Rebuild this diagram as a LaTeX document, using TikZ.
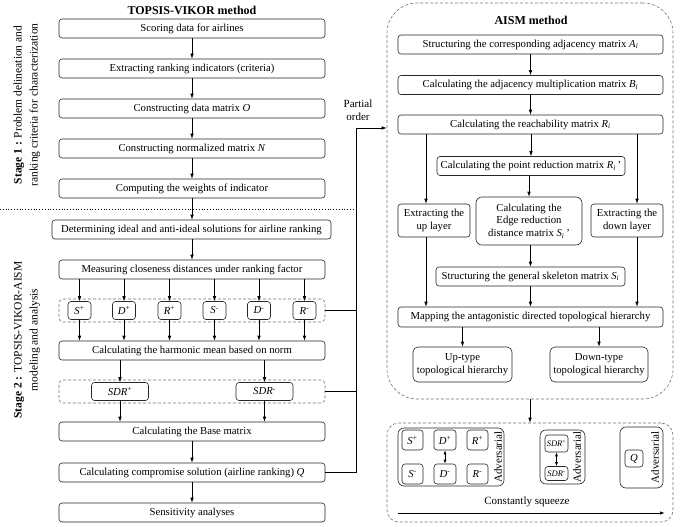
\documentclass[tikz,border=0pt]{standalone}
\usepackage{fontspec}
\setmainfont{Liberation Serif}
\usetikzlibrary{arrows.meta}
\newcommand\sv[2]{\textit{#1}\textsuperscript{#2}}
\newcommand\mx[2]{\textit{#1}\textsubscript{\textit{#2}}}
\begin{document}
\begin{tikzpicture}[x=1pt,y=-1pt,
 box/.style={draw=black!85, line width=0.6pt, rounded corners=3pt, inner sep=1pt, align=center, font=\fontsize{10.7}{12.5}\selectfont},
 sbox/.style={box, minimum width=23, minimum height=18},
 tbox/.style={box, font=\fontsize{8.5}{9}\selectfont, inner sep=0pt},
 grp/.style={draw=black!55, line width=0.6pt, dash pattern=on 3pt off 2pt},
 igrp/.style={draw=black!85, line width=0.6pt, rounded corners=6pt},
 arr/.style={-{Latex[length=5pt,width=3.5pt]}, line width=0.6pt},
 darr/.style={{Latex[length=4pt,width=3pt]}-{Latex[length=4pt,width=3pt]}, line width=0.6pt},
 ln/.style={line width=0.6pt},
 ttl/.style={font=\bfseries\fontsize{12}{14}\selectfont},
 lbl/.style={font=\fontsize{11.5}{16}\selectfont, align=center},
 adv/.style={rotate=90, font=\fontsize{11}{13}\selectfont, inner sep=0pt}
 ]
\useasboundingbox (0,0) rectangle (693,527);

% ---------- left column ----------
\node[ttl] (t1) at (192,10) {TOPSIS-VIKOR method};
\node[box,minimum width=266,minimum height=19] (a1) at (192,28.5) {Scoring data for airlines};
\node[box,minimum width=266,minimum height=19] (a2) at (192,68.5) {Extracting ranking indicators (criteria)};
\node[box,minimum width=266,minimum height=19] (a3) at (192,108.5) {Constructing data matrix \textit{O}};
\node[box,minimum width=266,minimum height=19] (a4) at (192,148.5) {Constructing normalized matrix \textit{N}};
\node[box,minimum width=266,minimum height=19] (a5) at (192,188.5) {Computing the weights of indicator};
\coordinate (dl) at (0,209);
\coordinate (dr) at (355,209);
\draw[dotted, line width=0.8pt] (dl) -- (dr);
\node[box,minimum width=279,minimum height=19] (a6) at (191.5,229.5) {Determining ideal and anti-ideal solutions for airline ranking};
\node[box,minimum width=266,minimum height=19] (a7) at (192,269.5) {Measuring closeness distances under ranking factor};
\node[grp, rounded corners=4pt, minimum width=266, minimum height=23] (sgrp) at (192,310.5) {};
\node[sbox] (p1) at (79.5,310.5) {\sv{S}{+}};
\node[sbox] (p2) at (124,310.5) {\sv{D}{+}};
\node[sbox] (p3) at (169.5,310.5) {\sv{R}{+}};
\node[sbox] (p4) at (214.5,310.5) {\sv{S}{-}};
\node[sbox] (p5) at (259,310.5) {\sv{D}{-}};
\node[sbox] (p6) at (304.5,310.5) {\sv{R}{-}};
\node[box,minimum width=266,minimum height=19] (a8) at (192,350.5) {Calculating the harmonic mean based on norm};
\node[grp, rounded corners=4pt, minimum width=266, minimum height=23] (dgrp) at (192,391.5) {};
\node[box,minimum width=57,minimum height=18] (q1) at (120,391.5) {\sv{SDR}{+}};
\node[box,minimum width=57,minimum height=18] (q2) at (264.5,391.5) {\sv{SDR}{-}};
\node[box,minimum width=266,minimum height=19] (a9) at (192,431.5) {Calculating the Base matrix};
\node[box,minimum width=266,minimum height=19] (a10) at (192,472.5) {Calculating compromise solution (airline ranking) \textit{Q}};
\node[box,minimum width=266,minimum height=19] (a11) at (192,512.5) {Sensitivity analyses};

\draw[arr] (a1) -- (a2);
\draw[arr] (a2) -- (a3);
\draw[arr] (a3) -- (a4);
\draw[arr] (a4) -- (a5);
\draw[arr] (a5.south) -- (a5.south |- a6.north);
\draw[arr] (a6.south -| a7) -- (a7.north);
\foreach \p in {p1,p2,p3,p4,p5,p6}{
  \draw[arr] (a7.south -| \p) -- (\p.north);
  \draw[arr] (\p.south) -- (a8.north -| \p);
}
\draw[arr] (a8.south -| q1) -- (q1.north);
\draw[arr] (a8.south -| q2) -- (q2.north);
\draw[arr] (q1.south) -- (a9.north -| q1);
\draw[arr] (q2.south) -- (a9.north -| q2);
\draw[arr] (a9) -- (a10);
\draw[arr] (a10) -- (a11);

% stage labels
\node[lbl, rotate=90] (st1) at (27,105) {\textbf{Stage 1 :} Problem delineation and\\ranking criteria for characterization};
\node[lbl, rotate=90] (st2) at (27,340) {\textbf{Stage 2 :} TOPSIS-VIKOR-AISM\\modeling and analysis};

% ---------- AISM ----------
\node[grp, rounded corners=30pt, minimum width=286, minimum height=396] (aism) at (530,201) {};
\node[ttl] (t2) at (531,20) {AISM method};
\node[box,minimum width=265,minimum height=19] (s1) at (530.5,44.5) {Structuring the corresponding adjacency matrix \mx{A}{i}};
\node[box,minimum width=265,minimum height=19] (s2) at (530.5,85) {Calculating the adjacency multiplication matrix \mx{B}{i}};
\node[box,minimum width=265,minimum height=19] (s3) at (530.5,124.5) {Calculating the reachability matrix \mx{R}{i}};
\node[box,minimum width=188,minimum height=19] (s4) at (531,166) {Calculating the point reduction matrix \mx{R}{i}\,’};
\node[box,minimum width=72,minimum height=33] (up) at (434,220.5) {Extracting the\\up layer};
\node[box,minimum width=106,minimum height=48, rounded corners=6pt] (edge) at (529,221) {Calculating the\\Edge reduction\\distance matrix \mx{S}{i}\,’};
\node[box,minimum width=72,minimum height=33] (down) at (627,220.5) {Extracting the\\down layer};
\node[box,minimum width=189,minimum height=19] (skel) at (530.5,276.5) {Structuring the general skeleton matrix \mx{S}{i}};
\node[box,minimum width=265,minimum height=20] (map) at (530.5,317) {Mapping the antagonistic directed topological hierarchy};
\node[box,minimum width=99,minimum height=35, rounded corners=5pt] (upt) at (462.5,364.5) {Up-type\\topological hierarchy};
\node[box,minimum width=98,minimum height=35, rounded corners=5pt] (dnt) at (599,364.5) {Down-type\\topological hierarchy};

\draw[arr] (s1) -- (s2);
\draw[arr] (s2) -- (s3);
\draw[arr] (s3.south -| s4) -- (s4.north);
\draw[arr] (s4.south -| edge.north) -- (edge.north);
\draw[arr] (edge.south -| skel.north) -- (skel.north);
\draw[arr] (skel.south) -- (map.north -| skel.south);
\coordinate (ux) at (426,0);
\coordinate (dx) at (637,0);
\draw[arr] (s3.south -| ux) -- (up.north -| ux);
\draw[arr] (up.south -| ux) -- (map.north -| ux);
\draw[arr] (s3.south -| dx) -- (down.north -| dx);
\draw[arr] (down.south -| dx) -- (map.north -| dx);
\draw[arr] (map.south -| upt) -- (upt.north);
\draw[arr] (map.south -| dnt) -- (dnt.north);

% partial order connector
\node[font=\fontsize{11}{13}\selectfont, align=center] (po) at (358,110) {Partial\\order};
\coordinate (vtop) at (356,128);
\draw[ln] (a10.east) -- (a10.east -| vtop) -- (vtop);
\draw[ln] (sgrp.east) -- (sgrp.east -| vtop);
\draw[ln] (dgrp.east) -- (dgrp.east -| vtop);
\draw[arr] (vtop) -- (vtop -| aism.west);

% ---------- bottom group ----------
\node[grp, rounded corners=12pt, minimum width=286, minimum height=99] (bg) at (530,472.5) {};
\draw[arr] (aism.south) -- (bg.north -| aism.south);

\node[igrp, minimum width=106, minimum height=58] (g1) at (451,457) {};
\node[box,minimum width=21,minimum height=20] (b1) at (412.5,440) {\sv{S}{+}};
\node[box,minimum width=22,minimum height=20] (b2) at (445,440) {\sv{D}{+}};
\node[box,minimum width=21,minimum height=20] (b3) at (477.5,440) {\sv{R}{+}};
\node[box,minimum width=21,minimum height=20] (b4) at (412.5,474) {\sv{S}{-}};
\node[box,minimum width=22,minimum height=20] (b5) at (445,474) {\sv{D}{-}};
\node[box,minimum width=21,minimum height=20] (b6) at (477.5,474) {\sv{R}{-}};
\draw[darr] (b2) -- (b5);
\node[adv] (adv1) at (498,457) {Adversarial};

\node[igrp, minimum width=45, minimum height=54] (g2) at (562.5,457) {};
\node[tbox,minimum width=23,minimum height=17] (c1) at (556.5,443.5) {\sv{SDR}{+}};
\node[tbox,minimum width=23,minimum height=14] (c2) at (556.5,473.5) {\sv{SDR}{-}};
\draw[darr] (c1) -- (c2);
\node[adv] (adv2) at (577,457) {Adversarial};

\node[igrp, minimum width=43, minimum height=61] (g3) at (641.5,457.5) {};
\node[box,minimum width=18,minimum height=17] (qq) at (634,458.5) {\textit{Q}};
\node[adv] (adv3) at (655,457.5) {Adversarial};

\node[font=\fontsize{11}{13}\selectfont] (cs) at (527,502) {Constantly squeeze};
\coordinate (sql) at (398,513);
\coordinate (sqr) at (665,513);
\draw[arr, line width=0.9pt] (sql) -- (sqr);
\end{tikzpicture}
\end{document}
